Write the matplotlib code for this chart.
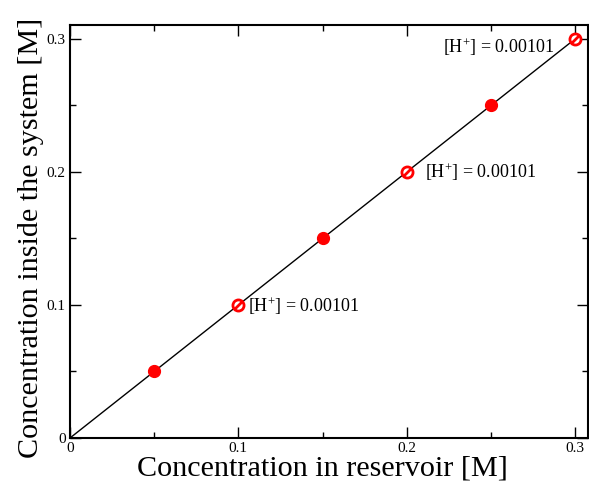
import matplotlib
matplotlib.use("Agg")
import matplotlib.pyplot as plt
from matplotlib.markers import MarkerStyle
from matplotlib.transforms import Affine2D
from matplotlib.ticker import MultipleLocator, FixedFormatter, FixedLocator

plt.rcParams['font.family'] = ['Liberation Serif', 'DejaVu Serif']
plt.rcParams['mathtext.fontset'] = 'custom'
plt.rcParams['mathtext.rm'] = 'Liberation Serif'
plt.rcParams['mathtext.it'] = 'Liberation Serif:italic'

line_x = [0.0, 0.3]
line_y = [0.0, 0.3]
filled_x = [0.05, 0.15, 0.25]
filled_y = [0.05, 0.15, 0.25]
open_x = [0.1, 0.2, 0.3]
open_y = [0.1, 0.2, 0.3]
ann_text = r'[H$^{+}$] = 0.00101'
ann_pos = [(0.1055, 0.0995), (0.211, 0.1995), (0.2215, 0.2935)]
tick_vals = [0, 0.1, 0.2, 0.3]
tick_labels = ['0', '0.1', '0.2', '0.3']

fig = plt.figure(figsize=(5.89, 4.83), dpi=100)
ax = fig.add_axes([70/589, 1-438/483, (588-70)/589, (438-25)/483])
ax.plot(line_x, line_y, color='black', lw=1.0, zorder=1)
ax.plot(filled_x, filled_y, 'o', color='red', ms=8.5, zorder=3, lw=0)
ax.plot(open_x, open_y, 'o', mfc='white', mec='red', mew=2.0, ms=8.0, zorder=3, lw=0)
slash = MarkerStyle('_', transform=Affine2D().rotate_deg(45))
ax.plot(open_x, open_y, marker=slash, color='red', mew=2.0, ms=8.5, lw=0, zorder=4)

for (x, y) in ann_pos:
    ax.text(x, y, ann_text, fontsize=13, va='center', ha='left')

ax.set_xlim(0, 0.3077)
ax.set_ylim(0, 0.3105)
ax.xaxis.set_major_locator(FixedLocator(tick_vals))
ax.yaxis.set_major_locator(FixedLocator(tick_vals))
ax.xaxis.set_major_formatter(FixedFormatter(tick_labels))
ax.yaxis.set_major_formatter(FixedFormatter(tick_labels))
ax.xaxis.set_minor_locator(MultipleLocator(0.05))
ax.yaxis.set_minor_locator(MultipleLocator(0.05))
ax.tick_params(which='both', direction='in', top=True, right=True, labelsize=11, width=1.0, pad=3)
ax.tick_params(which='major', length=8)
ax.tick_params(which='minor', length=4)
for s in ax.spines.values():
    s.set_linewidth(1.5)

ax.set_xlabel('Concentration in reservoir [M]', fontsize=21.7, labelpad=0)
ax.set_ylabel('Concentration inside the system [M]', fontsize=21.7, labelpad=2)
ax.xaxis.label.set_x(0.488)
ax.yaxis.label.set_y(0.484)

fig.savefig('out.png', dpi=100)
